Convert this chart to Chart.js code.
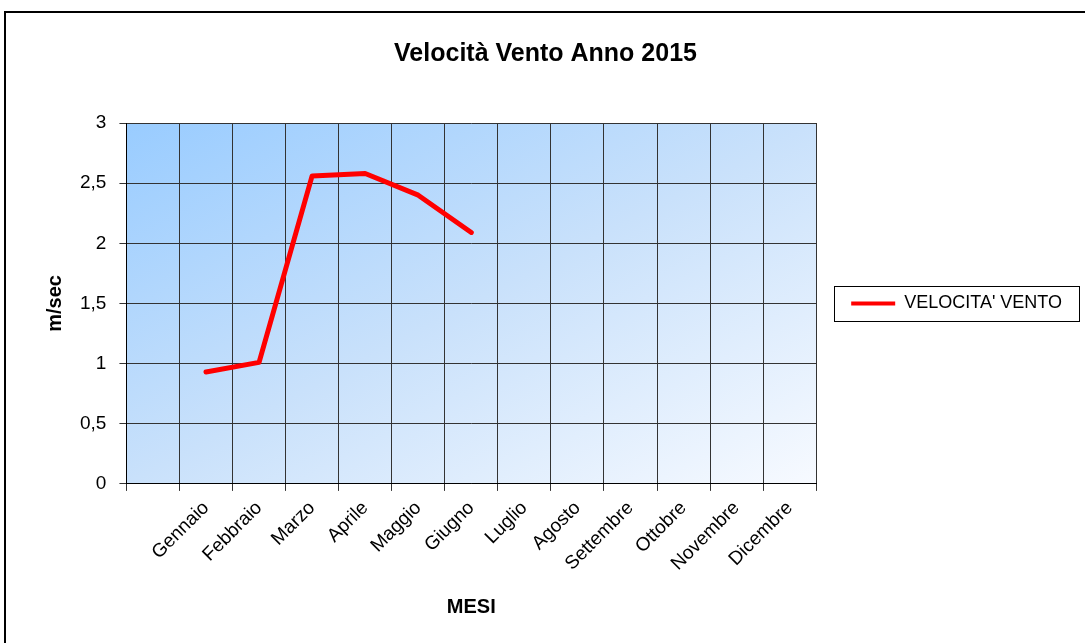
<!DOCTYPE html>
<html>
<head>
<meta charset="utf-8">
<script src="https://cdn.jsdelivr.net/npm/chart.js@4/dist/chart.umd.min.js"></script>
<style>
  body { margin: 0; background: #fff; }
  #wrap { position: relative; width: 1085px; height: 643px; overflow: hidden; }
  #frame { position: absolute; left: 4px; top: 11px; width: 1100px; height: 700px; border: 2px solid #000; pointer-events: none; }
  canvas { position: absolute; left: 0; top: 0; }
</style>
</head>
<body>
<div id="wrap">
  <canvas id="windChart" width="1085" height="643"></canvas>
  <div id="frame"></div>
</div>
<script>
// first category is left empty, as in the original sheet
const months = ['', 'Gennaio', 'Febbraio', 'Marzo', 'Aprile', 'Maggio', 'Giugno',
    'Luglio', 'Agosto', 'Settembre', 'Ottobre', 'Novembre', 'Dicembre'];
const windSpeed = [null, 0.93, 1.01, 2.56, 2.58, 2.40, 2.09, null, null, null, null, null, null];
const yTicks = [0, 0.5, 1, 1.5, 2, 2.5, 3];

const font = 'Arial, "Liberation Sans", sans-serif';

// diagonal fill: bottom-left and top-right corners share the middle colour
const plotBackground = {
    id: 'plotBackground',
    beforeDraw(chart) {
        const { ctx, chartArea: a } = chart;
        const w = a.right - a.left, h = a.bottom - a.top;
        const k = 2 * w * h / (w * w + h * h);
        const g = ctx.createLinearGradient(a.left, a.top, a.left + h * k, a.top + w * k);
        g.addColorStop(0, '#99ccff');
        g.addColorStop(0.5, '#c9e1fb');
        g.addColorStop(1, '#f7faff');
        ctx.save();
        ctx.fillStyle = g;
        ctx.fillRect(a.left, a.top, w, h);
        ctx.restore();
    }
};

const legendFrame = {
    id: 'legendFrame',
    afterDraw(chart) {
        const box = chart.legend.legendHitBoxes[0];
        if (!box) return;
        const ctx = chart.ctx;
        const cy = box.top + box.height / 2;
        ctx.save();
        ctx.strokeStyle = '#000';
        ctx.lineWidth = 1;
        ctx.strokeRect(Math.round(box.left - 17) + 0.5, Math.round(cy - 17.5) + 0.5, Math.round(box.width + 34), 35);
        ctx.restore();
    }
};

new Chart(document.getElementById('windChart').getContext('2d'), {
    type: 'line',
    data: {
        labels: months,
        datasets: [{
            label: "VELOCITA' VENTO",
            data: windSpeed,
            borderColor: '#ff0000',
            backgroundColor: '#ff0000',
            borderWidth: 5,
            borderCapStyle: 'round',
            borderJoinStyle: 'round',
            pointRadius: 0,
            tension: 0
        }]
    },
    options: {
        responsive: false,
        animation: false,
        layout: { padding: { left: 19, right: 13, top: 10, bottom: 14 } },
        plugins: {
            title: {
                display: true,
                text: 'Velocità Vento Anno 2015',
                color: '#000',
                font: { family: font, size: 25, weight: 'bold' },
                padding: { top: 29, bottom: 54 }
            },
            legend: {
                position: 'right',
                fullSize: false,
                labels: {
                    color: '#000',
                    font: { family: font, size: 18 },
                    boxWidth: 44,
                    boxHeight: 4,
                    padding: 35,
                    generateLabels(chart) {
                        return Chart.defaults.plugins.legend.labels.generateLabels(chart).map(l => {
                            l.lineWidth = 0;
                            return l;
                        });
                    }
                }
            },
            tooltip: { enabled: false }
        },
        scales: {
            x: {
                offset: true,
                grid: { color: '#333', lineWidth: 1, offset: true, tickLength: 7 },
                border: { color: '#000', width: 1 },
                ticks: {
                    color: '#000',
                    font: { family: font, size: 19 },
                    minRotation: 45,
                    maxRotation: 45,
                    padding: 6,
                    autoSkip: false
                },
                title: {
                    display: true,
                    text: 'MESI',
                    color: '#000',
                    font: { family: font, size: 20, weight: 'bold' },
                    padding: { top: 14, bottom: 10 }
                }
            },
            y: {
                min: yTicks[0],
                max: yTicks[yTicks.length - 1],
                afterBuildTicks(scale) {
                    scale.ticks = yTicks.map(v => ({ value: v }));
                },
                grid: { color: '#333', lineWidth: 1, tickLength: 7 },
                border: { color: '#000', width: 1 },
                ticks: {
                    color: '#000',
                    font: { family: font, size: 19 },
                    padding: 13,
                    callback: v => String(v).replace('.', ',')
                },
                title: {
                    display: true,
                    text: 'm/sec',
                    color: '#000',
                    font: { family: font, size: 20, weight: 'bold' },
                    padding: { top: 24, bottom: 0 }
                }
            }
        }
    },
    plugins: [plotBackground, legendFrame]
});
</script>
</body>
</html>
